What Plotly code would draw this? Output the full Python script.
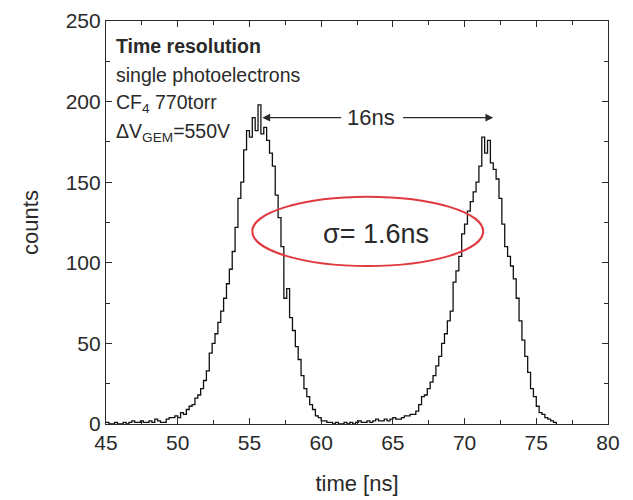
import numpy as np
import plotly.graph_objects as go

# histogram of arrival times, 0.2 ns bins starting at 45 ns
t_start = 45.0
bin_width = 0.2
counts = [
    1, 0, 0, 1, 0, 0, 1, 0, 1, 2, 1, 1, 2, 1, 1, 2, 1, 3, 2, 1, 1,
    3, 4, 4, 5, 4, 7, 6, 9, 11, 12, 16, 18, 22, 27, 33, 44, 50, 56, 63, 70,
    78, 87, 96, 107, 122, 140, 150, 170, 182, 178, 190, 182, 198, 180, 184,
    176, 168, 160, 142, 128, 110, 78, 84, 66, 58, 48, 40, 30, 22, 17, 12, 9,
    5, 4, 2, 2, 1, 1, 0, 1, 0, 0, 1, 0, 1, 0, 1, 2, 1, 1, 2, 1, 2, 3, 2, 2,
    3, 2, 3, 4, 3, 3, 4, 5, 5, 6, 6, 8, 12, 17, 18, 22, 26, 30, 36, 42, 50,
    56, 64, 70, 88, 95, 104, 118, 124, 132, 138, 144, 150, 160, 178, 168, 176,
    162, 158, 152, 140, 124, 110, 104, 98, 90, 78, 64, 52, 42, 32, 22, 17, 11,
    7, 6, 4, 3, 2, 1, 0,
]
times = t_start + bin_width * np.arange(len(counts))

info_lines = ["<b>Time resolution</b>", "single photoelectrons",
              "CF<sub>4</sub> 770torr", "\u0394V<sub>GEM</sub>=550V"]
info_y = [234.5, 216.5, 199, 181]
sep_label = "16ns"
sigma_label = "\u03c3= 1.6ns"

ink = "#2a2a2a"
font = "Liberation Sans, Arial, sans-serif"

fig = go.Figure()
fig.add_trace(go.Scatter(x=times, y=counts, mode="lines", line_shape="hv",
                         line=dict(color="#111111", width=1.3),
                         showlegend=False, hoverinfo="skip"))

for txt, yy in zip(info_lines, info_y):
    fig.add_annotation(x=45.55, y=yy, text=txt, showarrow=False, xanchor="left",
                       font=dict(size=19.5, color=ink, family=font))

# 16ns separation arrows
fig.add_annotation(x=55.9, y=190, ax=61.5, ay=190, axref="x", ayref="y",
                   showarrow=True, arrowhead=2, arrowsize=1.3, arrowwidth=1.2,
                   arrowcolor=ink, text="")
fig.add_annotation(x=72.0, y=190, ax=65.6, ay=190, axref="x", ayref="y",
                   showarrow=True, arrowhead=2, arrowsize=1.3, arrowwidth=1.2,
                   arrowcolor=ink, text="")
fig.add_annotation(x=63.5, y=190, text=sep_label, showarrow=False,
                   font=dict(size=22, color=ink, family=font))

# red ellipse with sigma
fig.add_shape(type="circle", xref="x", yref="y", x0=55.2, x1=71.3, y0=98, y1=141,
              line=dict(color="#e03a40", width=2))
fig.add_annotation(x=63.8, y=118, text=sigma_label, showarrow=False,
                   font=dict(size=27, color=ink, family=font))

axis_common = dict(showline=True, linecolor=ink, linewidth=1.2, mirror="allticks",
                   ticks="inside", ticklen=6, tickcolor=ink, showgrid=False,
                   zeroline=False, tickfont=dict(size=21, color=ink, family=font),
                   ticklabeloverflow="allow", automargin=False,
                   minor=dict(ticks="inside", ticklen=4, tickcolor=ink))

fig.update_xaxes(range=[45, 80], dtick=5, tick0=45,
                 title=dict(text="time [ns]", font=dict(size=22, color=ink, family=font), standoff=22),
                 **axis_common)
fig.update_xaxes(minor_dtick=2.5)
fig.update_yaxes(range=[0, 250], dtick=50, tick0=0,
                 title=dict(text="counts", font=dict(size=22, color=ink, family=font), standoff=20),
                 **axis_common)
fig.update_yaxes(minor_dtick=25)

fig.update_layout(width=625, height=493, plot_bgcolor="white", paper_bgcolor="white",
                  margin=dict(l=98, r=25, t=13, b=77), font=dict(family=font))

fig.write_html("out.html")
